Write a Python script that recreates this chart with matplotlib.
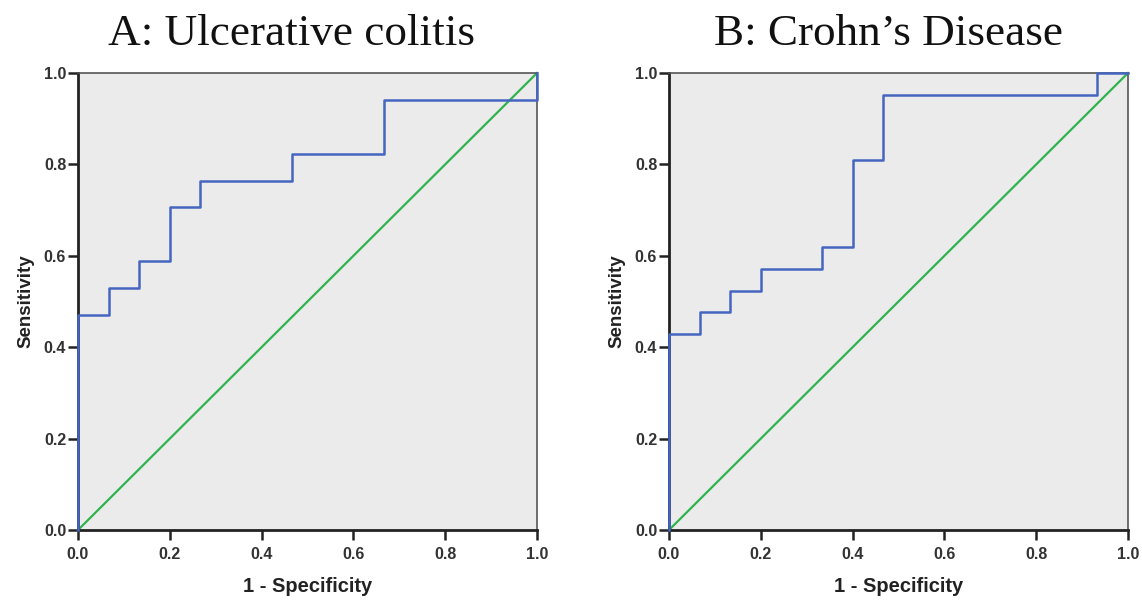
import matplotlib
matplotlib.use("Agg")
import matplotlib.pyplot as plt

# Data
uc_fpr = [0.0, 0.0, 0.0667, 0.0667, 0.1333, 0.1333, 0.2, 0.2, 0.2667, 0.2667, 0.4667, 0.4667, 0.6667, 0.6667, 1.0, 1.0]
uc_tpr = [0.0, 0.4706, 0.4706, 0.5294, 0.5294, 0.5882, 0.5882, 0.7059, 0.7059, 0.7647, 0.7647, 0.8235, 0.8235, 0.9412, 0.9412, 1.0]
cd_fpr = [0.0, 0.0, 0.0667, 0.0667, 0.1333, 0.1333, 0.2, 0.2, 0.3333, 0.3333, 0.4, 0.4, 0.4667, 0.4667, 0.9333, 0.9333, 1.0]
cd_tpr = [0.0, 0.4286, 0.4286, 0.4762, 0.4762, 0.5238, 0.5238, 0.5714, 0.5714, 0.6190, 0.6190, 0.8095, 0.8095, 0.9524, 0.9524, 1.0, 1.0]
ref_line = [0.0, 1.0]
ticks = [0.0, 0.2, 0.4, 0.6, 0.8, 1.0]
tick_labels = ["0.0", "0.2", "0.4", "0.6", "0.8", "1.0"]
titles = ["A: Ulcerative colitis", "B: Crohn\u2019s Disease"]

W, H = 1142, 601
fig = plt.figure(figsize=(W / 100, H / 100), dpi=100)
fig.patch.set_facecolor("white")

panels = [
    (78, uc_fpr, uc_tpr, titles[0], 292),
    (669, cd_fpr, cd_tpr, titles[1], 889),
]
top_px, bot_px = 73, 530
width_px = 459
for left_px, fx, ty, title, tx in panels:
    ax = fig.add_axes([left_px / W, (H - bot_px) / H, width_px / W, (bot_px - top_px) / H])
    ax.set_facecolor("#ebebeb")
    ax.plot(ref_line, ref_line, color="#2fb34e", lw=1.6, zorder=2, clip_on=False)
    ax.plot(fx, ty, color="#4565c0", lw=1.8, zorder=3, clip_on=False)
    ax.set_xlim(0, 1)
    ax.set_ylim(0, 1)
    ax.set_xticks(ticks)
    ax.set_yticks(ticks)
    ax.set_xticklabels(tick_labels, fontsize=11.5, fontweight="bold", color="#333333", family="Liberation Sans")
    ax.set_yticklabels(tick_labels, fontsize=11.5, fontweight="bold", color="#333333", family="Liberation Sans")
    ax.tick_params(axis="x", direction="out", length=7, width=1.8, color="#222222", pad=5)
    ax.tick_params(axis="y", direction="out", length=7, width=1.8, color="#222222", pad=1.5)
    for s in ["left", "bottom"]:
        ax.spines[s].set_linewidth(2.0)
        ax.spines[s].set_color("#222222")
    for s in ["top", "right"]:
        ax.spines[s].set_linewidth(1.2)
        ax.spines[s].set_color("#555555")
    ax.set_xlabel("1 - Specificity", fontsize=14.5, fontweight="bold", color="#222222",
                  family="Liberation Sans", labelpad=11)
    ax.set_ylabel("Sensitivity", fontsize=13.5, fontweight="bold", color="#222222",
                  family="Liberation Sans", labelpad=7)
    fig.text(tx / W, 1 - 34 / H, title, ha="center", va="center", fontsize=32.5,
             family="Liberation Serif", color="#111111")

fig.savefig("out.png", dpi=100)
